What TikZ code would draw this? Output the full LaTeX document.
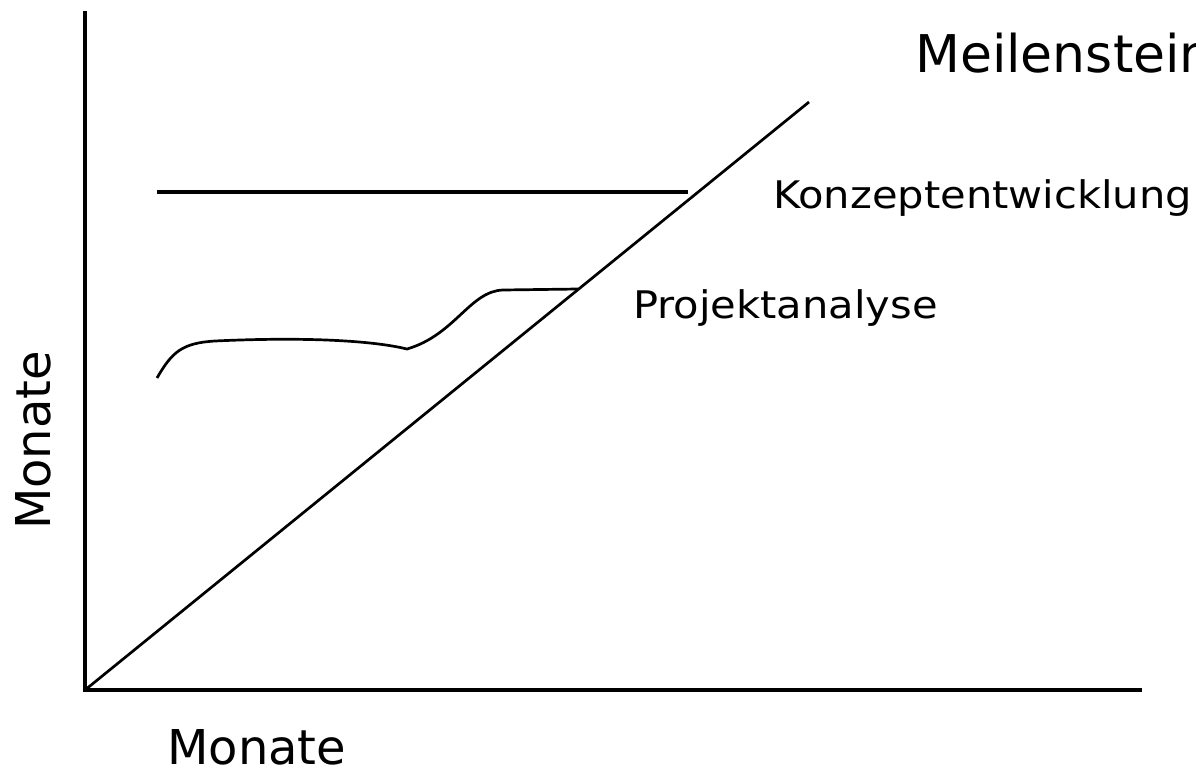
\documentclass[tikz,border=0pt]{standalone}
\usepackage{fontspec}
\setmainfont{DejaVu Sans}
\newfontfamily\widefont[FakeStretch=1.095]{DejaVu Sans}
\begin{document}
\begin{tikzpicture}[x=1pt,y=-1pt,
  axis/.style={line width=3.1pt},
  curveline/.style={line width=2.7pt},
  lbl/.style={inner sep=0pt, anchor=base west},
  biglbl/.style={lbl, font=\fontsize{48}{48}\selectfont},
  midlbl/.style={lbl, font=\widefont\fontsize{38}{38}\selectfont}]
\useasboundingbox (0,0) rectangle (1196,768);
\coordinate (ytop) at (85,11);
\coordinate (origin) at (85,690);
\coordinate (xend) at (1142,690);
\coordinate (dtop) at (809,102);
\coordinate (hs) at (157,192);
\coordinate (he) at (688,192);
\coordinate (cs) at (157,378);
\coordinate (ck) at (407,349);
\coordinate (ct) at (503,290);
\coordinate (ce) at (578,289);
\draw[axis] (ytop) -- (origin) -- (xend);
\draw[curveline] (origin) -- (dtop);
\draw[axis] (hs) -- (he);
\draw[curveline, line join=round] (cs) .. controls (172,352) and (182,343) .. (215,341)
  .. controls (300,337) and (370,340) .. (ck)
  .. controls (455,335) and (470,291) .. (ct) -- (ce);
\node[lbl, font=\fontsize{52}{52}\selectfont] (meil) at (915,73) {Meilenstein};
\node[midlbl] (konz) at (773,208) {Konzeptentwicklung};
\node[midlbl] (proj) at (633,318) {Projektanalyse};
\node[biglbl] (mx) at (167,764) {Monate};
\node[biglbl, rotate=90] (my) at (50,530) {Monate};
\end{tikzpicture}
\end{document}
